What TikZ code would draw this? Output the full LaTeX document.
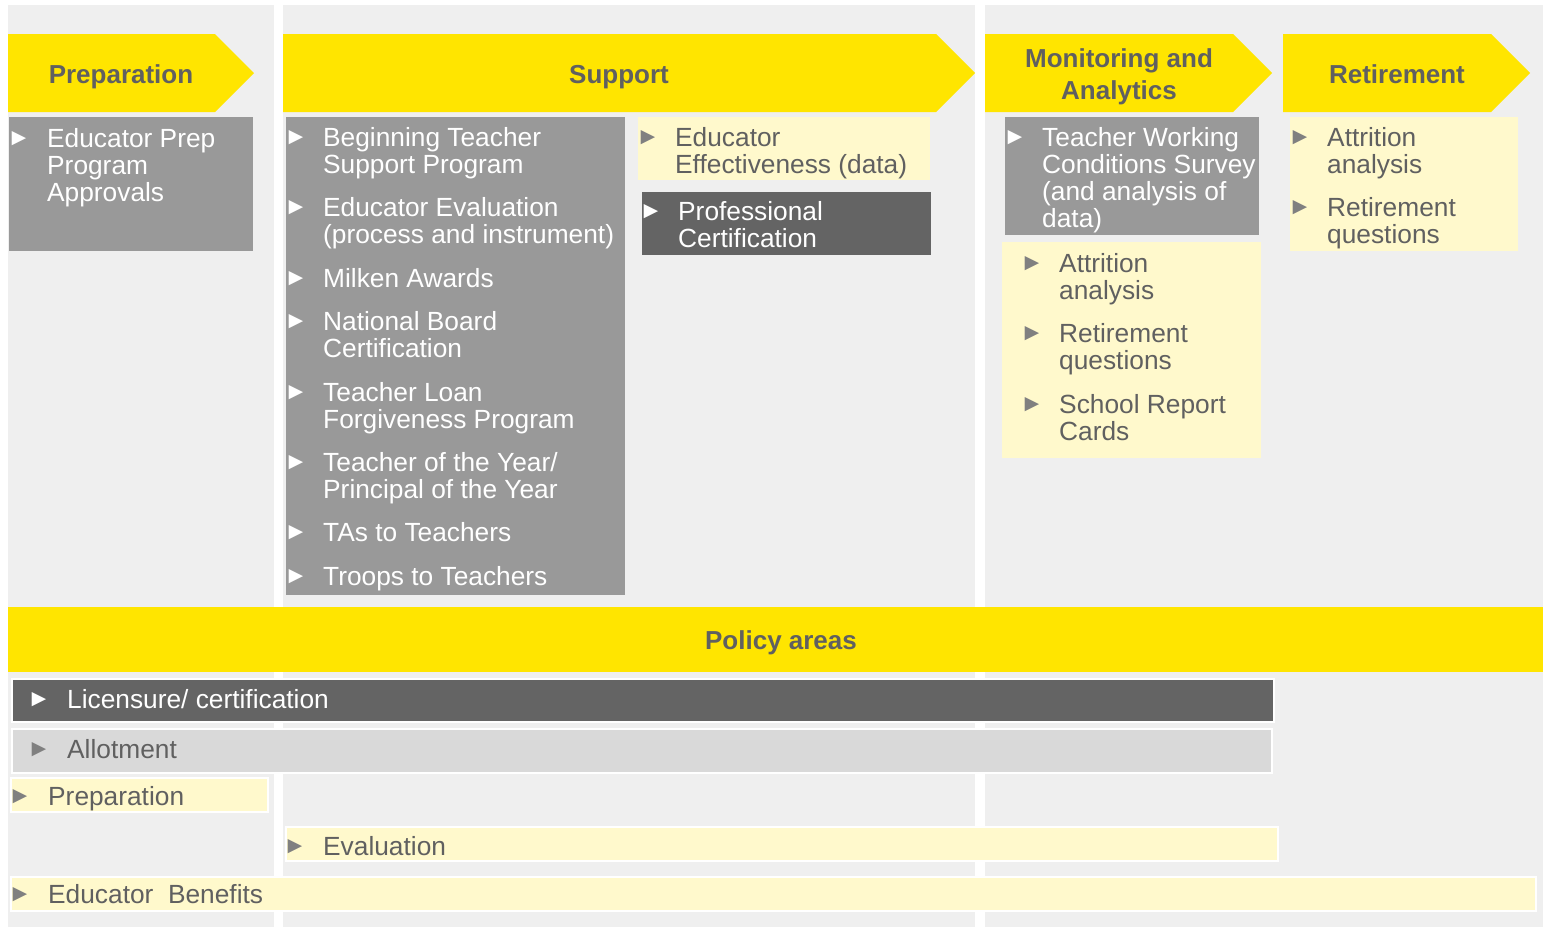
\documentclass[tikz,border=0pt]{standalone}
\usepackage{fontspec}
\setmainfont{Liberation Sans}
\usepackage{tikz}
\usetikzlibrary{positioning}
\definecolor{panel}{RGB}{239,239,239}
\definecolor{sun}{RGB}{255,229,0}
\definecolor{cream}{RGB}{255,249,204}
\definecolor{stone}{RGB}{153,153,153}
\definecolor{coal}{RGB}{100,100,100}
\definecolor{fog}{RGB}{217,217,217}
\definecolor{inkgray}{RGB}{96,96,96}
\definecolor{tickgray}{RGB}{128,128,128}
\newcommand{\topstrut}{\rule{0pt}{20pt}}

\begin{document}
\begin{tikzpicture}[
  x=1pt, y=-1pt,
  head/.style={font=\fontsize{26}{32}\selectfont\bfseries, text=inkgray,
               inner sep=0pt, align=center, anchor=base},
  itm/.style={font=\fontsize{26.3}{27}\selectfont, inner sep=0pt,
              align=left, anchor=north west},
  onlight/.style={itm, text=inkgray},
  ondark/.style={itm, text=white},
  tick/.style={font=\fontsize{24}{24}\selectfont, inner sep=0pt, anchor=west},
  ticklight/.style={tick, text=tickgray},
  tickdark/.style={tick, text=white},
  bar/.style={draw=white, line width=1.5pt}]
  \useasboundingbox (0,0) rectangle (1543,927);
  \fill[panel] (8,5) rectangle (274,927);
  \fill[panel] (283,5) rectangle (975,927);
  \fill[panel] (985,5) rectangle (1543,927);
  % stage arrows
  \fill[sun] (8,34) -- (215,34) -- (254,73) -- (215,112) -- (8,112) -- cycle;
  \fill[sun] (283,34) -- (936,34) -- (975,73) -- (936,112) -- (283,112) -- cycle;
  \fill[sun] (985,34) -- (1233,34) -- (1272,73) -- (1233,112) -- (985,112) -- cycle;
  \fill[sun] (1283,34) -- (1491,34) -- (1530,73) -- (1491,112) -- (1283,112) -- cycle;
  \node[head] (prephead) at (121,83) {Preparation};
  \node[head] (supphead) at (619,83) {Support};
  \node[head, anchor=north] (monhead) at (1119,47) {\topstrut Monitoring and\\Analytics};
  \node[head] (rethead) at (1397,83) {Retirement};
  % boxes
  \fill[stone] (9,117) rectangle (253,251);
  \fill[stone] (286,117) rectangle (625,595);
  \fill[cream] (638,117) rectangle (930,180);
  \fill[coal] (642,192) rectangle (931,255);
  \fill[stone] (1005,117) rectangle (1259,235);
  \fill[cream] (1002,242) rectangle (1261,458);
  \fill[cream] (1290,117) rectangle (1518,251);
  \node[tickdark] (prepAb) at (7,139) {►};
  \node[ondark] (prepA) at (47,127) {\topstrut Educator Prep\\Program\\Approvals};
  \node[tickdark] (suppAb) at (284,138) {►};
  \node[ondark] (suppA) at (323,126) {\topstrut Beginning Teacher\\Support Program};
  \node[tickdark] (suppBb) at (284,208) {►};
  \node[ondark] (suppB) at (323,196) {\topstrut Educator Evaluation\\(process and instrument)};
  \node[tickdark] (suppCb) at (284,279) {►};
  \node[ondark] (suppC) at (323,267) {\topstrut Milken Awards};
  \node[tickdark] (suppDb) at (284,322) {►};
  \node[ondark] (suppD) at (323,310) {\topstrut National Board\\Certification};
  \node[tickdark] (suppEb) at (284,393) {►};
  \node[ondark] (suppE) at (323,381) {\topstrut Teacher Loan\\Forgiveness Program};
  \node[tickdark] (suppFb) at (284,463) {►};
  \node[ondark] (suppF) at (323,451) {\topstrut Teacher of the Year/\\Principal of the Year};
  \node[tickdark] (suppGb) at (284,533) {►};
  \node[ondark] (suppG) at (323,521) {\topstrut TAs to Teachers};
  \node[tickdark] (suppHb) at (284,577) {►};
  \node[ondark] (suppH) at (323,565) {\topstrut Troops to Teachers};
  \node[ticklight] (effb) at (636,138) {►};
  \node[onlight] (eff) at (675,126) {\topstrut Educator\\Effectiveness (data)};
  \node[tickdark] (certb) at (639,212) {►};
  \node[ondark] (cert) at (678,200) {\topstrut Professional\\Certification};
  \node[tickdark] (survb) at (1003,138) {►};
  \node[ondark] (surv) at (1042,126) {\topstrut Teacher Working\\Conditions Survey\\(and analysis of\\data)};
  \node[ticklight] (monAb) at (1020,264) {►};
  \node[onlight] (monA) at (1059,252) {\topstrut Attrition\\analysis};
  \node[ticklight] (monBb) at (1020,334) {►};
  \node[onlight] (monB) at (1059,322) {\topstrut Retirement\\questions};
  \node[ticklight] (monCb) at (1020,405) {►};
  \node[onlight] (monC) at (1059,393) {\topstrut School Report\\Cards};
  \node[ticklight] (retAb) at (1288,138) {►};
  \node[onlight] (retA) at (1327,126) {\topstrut Attrition\\analysis};
  \node[ticklight] (retBb) at (1288,208) {►};
  \node[onlight] (retB) at (1327,196) {\topstrut Retirement\\questions};
  % policy areas
  \fill[sun] (8,607) rectangle (1543,672);
  \node[head] (policyhead) at (781,649) {Policy areas};
  \filldraw[bar, fill=coal] (12,679) rectangle (1274,722);
  \filldraw[bar, fill=fog] (12,729) rectangle (1272,773);
  \filldraw[bar, fill=cream] (11,778) rectangle (268,812);
  \filldraw[bar, fill=cream] (286,827) rectangle (1278,861);
  \filldraw[bar, fill=cream] (11,877) rectangle (1536,911);
  \node[tickdark] (licb) at (27,700) {►};
  \node[ondark] (lic) at (67,688) {\topstrut Licensure/ certification};
  \node[ticklight] (allotb) at (27,750) {►};
  \node[onlight] (allot) at (67,738) {\topstrut Allotment};
  \node[ticklight] (prepbarb) at (8,797) {►};
  \node[onlight] (prepbar) at (48,785) {\topstrut Preparation};
  \node[ticklight] (evalb) at (283,847) {►};
  \node[onlight] (eval) at (323,835) {\topstrut Evaluation};
  \node[ticklight] (benb) at (8,895) {►};
  \node[onlight] (ben) at (48,883) {\topstrut Educator\ \ Benefits};
\end{tikzpicture}
\end{document}
